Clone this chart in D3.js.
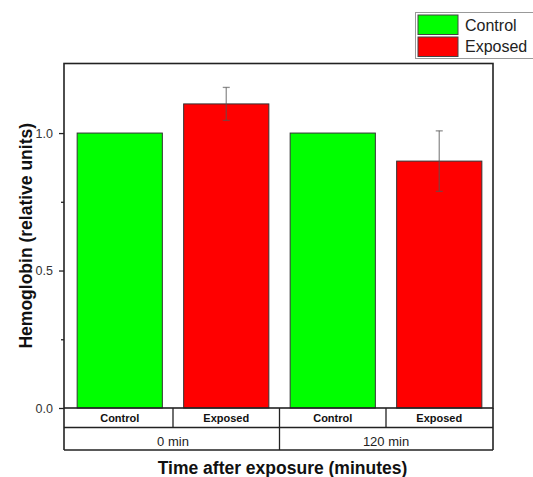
<!DOCTYPE html>
<html><head><meta charset="utf-8">
<script src="https://cdn.jsdelivr.net/npm/d3@7"></script>
<style>body{margin:0;background:#fff}svg{display:block;font-family:"Liberation Sans",Arial,sans-serif}</style>
</head><body>
<script>
const groups = ["0 min", "120 min"];
const conditions = ["Control", "Exposed"];
const values = [1.0, 1.106, 1.0, 0.898];
const errors = [0, 0.06, 0, 0.11];
const colors = ["#00ff00", "#ff0000"];
const yTicks = [0, 0.5, 1.0];
const yMinor = [0.25, 0.75];

const W = 533, H = 477;
const L = 64, R = 493, T = 63.5, B = 408;
const svg = d3.select("body").append("svg").attr("width", W).attr("height", H);

const bars = [];
groups.forEach((g, gi) => conditions.forEach((c, ci) => bars.push({g, c, ci, v: values[gi*2+ci], e: errors[gi*2+ci], key: g + "|" + c})));

const x = d3.scaleBand().domain(bars.map(d => d.key)).range([L + 2.5, R - 0.5]).paddingInner(0.2).paddingOuter(0.1);
const y = d3.scaleLinear().domain([0, 1.253]).range([B, T]);

// bars
svg.selectAll("rect.bar").data(bars).join("rect")
  .attr("x", d => x(d.key)).attr("y", d => y(d.v))
  .attr("width", x.bandwidth()).attr("height", d => y(0) - y(d.v))
  .attr("fill", d => colors[d.ci]).attr("stroke", "#333").attr("stroke-width", 1);

// error bars
const eb = svg.selectAll("g.err").data(bars.filter(d => d.e > 0)).join("g").attr("stroke", "#555").attr("stroke-opacity", 0.65).attr("stroke-width", 1.3);
const cx = d => x(d.key) + x.bandwidth()/2;
eb.append("line").attr("x1", cx).attr("x2", cx)
  .attr("y1", d => y(d.v + d.e)).attr("y2", d => y(d.v - d.e));
eb.append("line").attr("x1", d => cx(d) - 3.5).attr("x2", d => cx(d) + 3.5)
  .attr("y1", d => y(d.v + d.e)).attr("y2", d => y(d.v + d.e));
eb.append("line").attr("x1", d => cx(d) - 3.5).attr("x2", d => cx(d) + 3.5)
  .attr("y1", d => y(d.v - d.e)).attr("y2", d => y(d.v - d.e));

// frame
svg.append("rect").attr("x", L).attr("y", T).attr("width", R - L).attr("height", B - T)
  .attr("fill", "none").attr("stroke", "#222").attr("stroke-width", 1.6);

// y axis
const yAxis = d3.axisLeft(y).tickValues(yTicks).tickFormat(d3.format(".1f")).tickSize(5).tickPadding(6);
const ga = svg.append("g").attr("transform", `translate(${L},0)`).call(yAxis);
ga.select(".domain").remove();
ga.selectAll("line").attr("stroke", "#222").attr("stroke-width", 1.3);
ga.selectAll("text").attr("font-size", 12.5).attr("fill", "#333").attr("font-family", "Liberation Sans, Arial");
const gm = svg.append("g").attr("transform", `translate(${L},0)`).call(d3.axisLeft(y).tickValues(yMinor).tickSize(3).tickFormat(""));
gm.select(".domain").remove();
gm.selectAll("line").attr("stroke", "#222").attr("stroke-width", 1.3);

// category table
const row1 = 427.5, row2 = 450;
svg.append("line").attr("x1", L).attr("x2", R).attr("y1", row1).attr("y2", row1).attr("stroke", "#222").attr("stroke-width", 1.3);
svg.append("line").attr("x1", L).attr("x2", R).attr("y1", row2).attr("y2", row2).attr("stroke", "#222").attr("stroke-width", 1.6);
svg.append("line").attr("x1", L).attr("x2", L).attr("y1", B).attr("y2", row2).attr("stroke", "#222").attr("stroke-width", 1.6);
svg.append("line").attr("x1", R).attr("x2", R).attr("y1", B).attr("y2", row2).attr("stroke", "#222").attr("stroke-width", 1.6);
bars.forEach((d, i) => {
  if (i > 0) {
    const xe = x(d.key) - (x.step() - x.bandwidth())/2;
    svg.append("line").attr("x1", xe).attr("x2", xe).attr("y1", B).attr("y2", d.ci === 0 ? row2 : row1).attr("stroke", "#222").attr("stroke-width", 1.3);
  }
  svg.append("text").attr("x", cx(d)).attr("y", 422).attr("text-anchor", "middle")
    .attr("font-size", 11).attr("font-weight", "bold").attr("fill", "#111").text(d.c);
});
groups.forEach((g, gi) => {
  const a = x(bars[gi*2].key), b = x(bars[gi*2+1].key) + x.bandwidth();
  svg.append("text").attr("x", (a + b)/2).attr("y", 446).attr("text-anchor", "middle")
    .attr("font-size", 13).attr("fill", "#222").text(g);
});

// titles
svg.append("text").attr("x", (L + R)/2 + 4).attr("y", 474).attr("text-anchor", "middle")
  .attr("font-size", 17.5).attr("font-weight", "bold").attr("fill", "#111").text("Time after exposure (minutes)");
svg.append("text").attr("transform", `translate(32,${(T + B)/2}) rotate(-90)`).attr("text-anchor", "middle")
  .attr("font-size", 17.5).attr("font-weight", "bold").attr("fill", "#111").text("Hemoglobin (relative units)");

// legend
const lg = svg.append("g");
lg.append("rect").attr("x", 415.5).attr("y", 12.5).attr("width", 140).attr("height", 46).attr("fill", "#fff").attr("stroke", "#999").attr("stroke-width", 1);
conditions.forEach((c, i) => {
  lg.append("rect").attr("x", 418).attr("y", 15 + i*22).attr("width", 40).attr("height", 19.5).attr("fill", colors[i]).attr("stroke", "#444").attr("stroke-width", 1);
  lg.append("text").attr("x", 465).attr("y", 31 + i*21).attr("font-size", 16).attr("fill", "#222").text(c);
});
</script>
</body></html>
